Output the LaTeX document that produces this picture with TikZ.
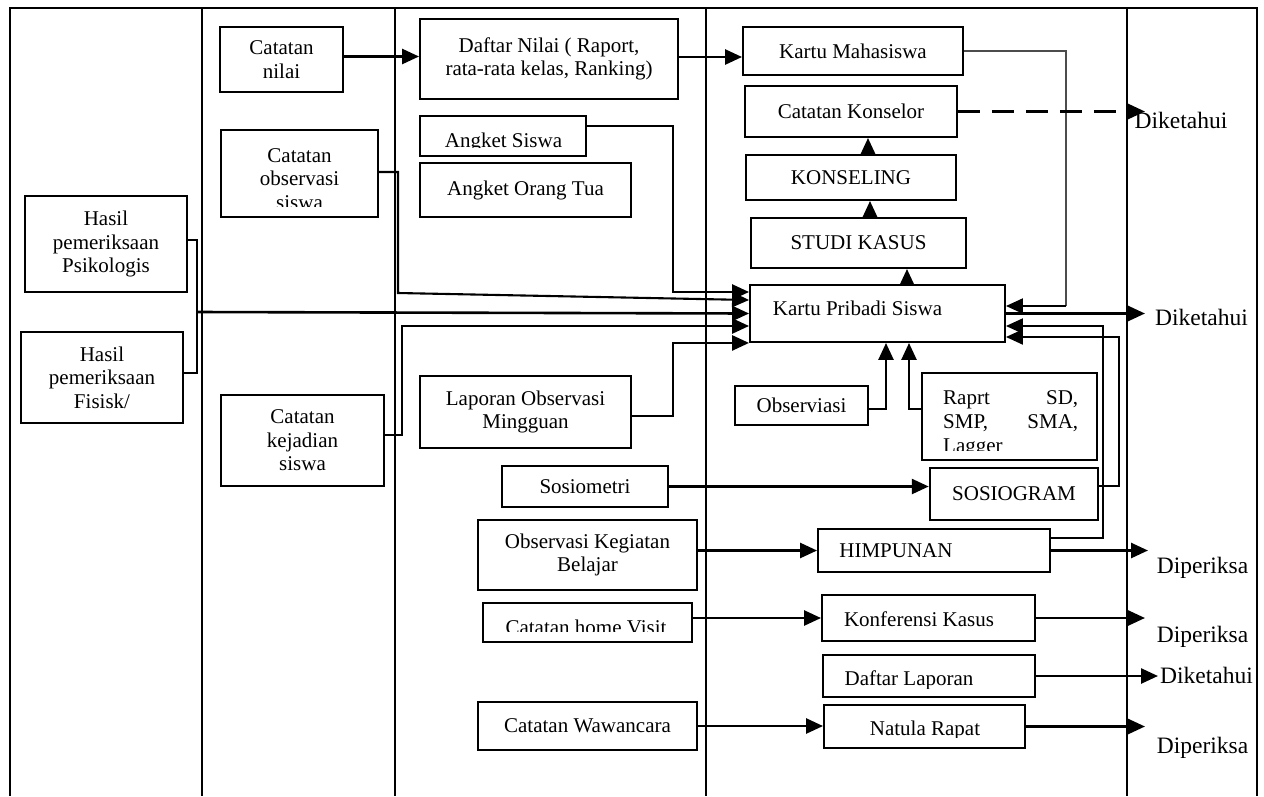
\documentclass[tikz,border=0pt]{standalone}
\usepackage{fontspec}
\setmainfont{Liberation Serif}
\usetikzlibrary{arrows.meta,calc}
\begin{document}
\begin{tikzpicture}[x=1pt,y=-1pt,
  frame/.style={line width=2.2pt},
  bx/.style={draw, line width=1.9pt, inner sep=0pt, align=center, font=\fontsize{21}{23.5}\selectfont},
  txt/.style={inner sep=0pt, align=center, font=\fontsize{21}{23.5}\selectfont},
  lbl/.style={inner sep=0pt, font=\fontsize{23.5}{26}\selectfont},
  arr/.style={line width=2.6pt, -{Triangle[length=17pt,width=15pt]}},
  arrm/.style={line width=2.1pt, -{Triangle[length=17pt,width=15pt]}},
  conn/.style={line width=1.7pt},
  grayl/.style={line width=1.5pt, draw=black!70},
  dasharr/.style={line width=2.8pt, dash pattern=on 22pt off 12pt, -{Triangle[length=17pt,width=15pt]}}
]
\useasboundingbox (0,0) rectangle (1264,796);

% frame
\draw[frame] (9,8) -- (1258,8);
\foreach \x in {10,202,395,706,1127,1257} \draw[frame] (\x,8) -- (\x,796);

% column 1
\node[bx, minimum width=162pt, minimum height=96pt] (psi) at (106,244) {Hasil\\pemeriksaan\\Psikologis};
\node[bx, minimum width=162pt, minimum height=91pt] (fis) at (102,377.5) {Hasil\\pemeriksaan\\Fisisk/};

% column 2
\node[bx, minimum width=123pt, minimum height=65pt] (cn) at (281.5,59.5) {Catatan\\nilai};
\node[bx, minimum width=157pt, minimum height=87pt] (cobs) at (299.5,173.5) {};
\begin{scope}
  \clip (221,130) rectangle (378,206);
  \node[txt, anchor=north] (cobst) at (299.5,148) {Catatan\\observasi\\siswa};
\end{scope}
\node[bx, minimum width=163pt, minimum height=91pt] (kej) at (302.5,440.5) {Catatan\\kejadian\\siswa};

% column 3
\node[bx, minimum width=258pt, minimum height=80pt] (dn) at (549,59) {Daftar Nilai ( Raport,\\rata-rata kelas, Ranking)};
\node[bx, minimum width=166pt, minimum height=40pt] (as) at (503,136) {};
\begin{scope}
  \clip (420,116) rectangle (586,147);
  \node[txt, anchor=base] (ast) at (503.5,147) {Angket Siswa};
\end{scope}
\node[bx, minimum width=211pt, minimum height=54pt] (aot) at (525.5,190) {Angket Orang Tua};
\node[bx, minimum width=211pt, minimum height=72pt] (lom) at (525.5,412) {Laporan Observasi\\Mingguan};
\node[bx, minimum width=166pt, minimum height=41pt] (sosm) at (585,486.5) {Sosiometri};
\node[bx, minimum width=219pt, minimum height=70pt] (okb) at (587.5,555) {Observasi Kegiatan\\Belajar};
\node[bx, minimum width=209pt, minimum height=39pt] (chv) at (587.5,622.5) {};
\begin{scope}
  \clip (483,603) rectangle (692,631);
  \node[txt, anchor=base] (chvt) at (586,634) {Catatan home Visit};
\end{scope}
\node[bx, minimum width=219pt, minimum height=48pt] (cw) at (587.5,726) {Catatan Wawancara};

% column 4
\node[bx, minimum width=220pt, minimum height=48pt] (km) at (853,51) {Kartu Mahasiswa};
\node[bx, minimum width=212pt, minimum height=51pt] (ck) at (851,111.5) {Catatan Konselor};
\node[bx, minimum width=210pt, minimum height=45pt] (kons) at (851,177.5) {KONSELING};
\node[bx, minimum width=215pt, minimum height=50pt] (sk) at (858.5,243) {STUDI KASUS};
\node[bx, minimum width=255pt, minimum height=57pt] (kp) at (877.5,313.5) {};
\node[txt, anchor=base] (kpt) at (857.5,315) {Kartu Pribadi Siswa};
\node[bx, minimum width=133pt, minimum height=39pt] (obs) at (801.5,405.5) {Observiasi};
\node[bx, minimum width=175pt, minimum height=87pt] (rap) at (1009.5,416.5) {};
\begin{scope}
  \clip (922,373) rectangle (1097,450);
  \node[txt, anchor=north west, align=left, font=\fontsize{21}{24}\selectfont] (rapt) at (943,390)
    {\hbox to 135pt{Raprt\hfill SD,}\\\hbox to 135pt{SMP,\hfill SMA,}\\Lagger};
\end{scope}
\node[bx, line width=2.5pt, minimum width=168pt, minimum height=52pt] (sosg) at (1014,494) {SOSIOGRAM};
\node[bx, minimum width=232pt, minimum height=43pt] (him) at (934,550.5) {};
\node[txt, anchor=base] (himt) at (896,557) {HIMPUNAN};
\node[bx, minimum width=213pt, minimum height=46pt] (kk) at (928.5,618) {};
\node[txt, anchor=base] (kkt) at (919,626) {Konferensi Kasus};
\node[bx, minimum width=212pt, minimum height=42pt] (dl) at (929,676) {};
\begin{scope}
  \clip (823,655) rectangle (1035,688);
  \node[txt, anchor=base] (dlt) at (909,685) {Daftar Laporan};
\end{scope}
\node[bx, minimum width=201pt, minimum height=43pt] (nr) at (924.5,726.5) {};
\begin{scope}
  \clip (824,705) rectangle (1025,737);
  \node[txt, anchor=base] (nrt) at (925,735) {Natula Rapat};
\end{scope}

% column 5 labels
\node[lbl, anchor=base] (d1) at (1181,128) {Diketahui};
\node[lbl, anchor=base] (d2) at (1201.5,325) {Diketahui};
\node[lbl, anchor=base] (p1) at (1202.5,573) {Diperiksa};
\node[lbl, anchor=base] (p2) at (1202.5,642) {Diperiksa};
\node[lbl, anchor=base] (d3) at (1206.5,683) {Diketahui};
\node[lbl, anchor=base] (p3) at (1202.5,753) {Diperiksa};

% helper coordinates
\coordinate (xr) at (1145,0);
\coordinate (xr2) at (1148,0);
\coordinate (xd3) at (1158,0);
\coordinate (xkm) at (1066,0);
\coordinate (xhim) at (1103,0);
\coordinate (xsos) at (1119,0);
\coordinate (xobs) at (886,0);
\coordinate (xrap) at (909,0);
\coordinate (xas) at (673,0);
\coordinate (xkej) at (402,0);
\coordinate (cobsB) at (398,293);
\coordinate (j) at (197,312);
\coordinate (kpA) at ([yshift=7.5pt]kp.east);
\coordinate (kpB) at ([yshift=-12.5pt]kp.east);
\coordinate (kpC) at ([yshift=-23.5pt]kp.east);
\coordinate (himA) at ([yshift=12.5pt]him.east);
\coordinate (sosA) at ([yshift=8pt]sosg.east);
\coordinate (obsA) at ([yshift=-3.5pt]obs.east);
\coordinate (rapA) at ([yshift=7.5pt]rap.west);
\coordinate (asA) at ([yshift=10pt]as.east);
\coordinate (kpL1) at ([yshift=21.5pt]kp.west);
\coordinate (kpL2) at ([yshift=13.5pt]kp.west);
\coordinate (kpL4) at ([yshift=-12.5pt]kp.west);
\coordinate (cobsA) at ([yshift=1.5pt]cobs.east);
\coordinate (kejA) at ([yshift=5.5pt]kej.east);
\coordinate (lomA) at ([yshift=-4pt]lom.east);
\coordinate (psiA) at ([yshift=4pt]psi.east);
\coordinate (fisA) at ([yshift=4.5pt]fis.east);
\coordinate (cnA) at ([yshift=3pt]cn.east);
\coordinate (dnA) at ([yshift=2pt]dn.east);

% connectors
\draw[arr] (cnA) -- (cnA -| dn.west);
\draw[arr] (dnA) -- (dnA -| km.west);
\draw[grayl] (km.east) -| (xkm |- kpA);
\draw[arrm] (xkm |- kpA) -- (kpA);
\draw[dasharr] (ck.east) -- (ck.east -| xr);
\draw[arr] ([xshift=17pt]kons.north) -- ([xshift=17pt]kons.north |- ck.south);
\draw[arr] ([xshift=11.5pt]sk.north) -- ([xshift=11.5pt]sk.north |- kons.south);
\draw[arr] ([xshift=29.5pt]kp.north) -- ([xshift=29.5pt]kp.north |- sk.south);
\draw[arr] (kp.east) -- (kp.east -| xr);
\draw[arrm] (himA) -| (xhim |- kpB) -- (kpB);
\draw[arrm] (sosA) -| (xsos |- kpC) -- (kpC);
\draw[arr] (obsA) -| (xobs |- kp.south);
\draw[arr] (rapA) -| (xrap |- kp.south);
\draw[arr] (asA) -| (xas |- kpL1) -- (kpL1);
\draw[arrm] (cobsA) -| (cobsB) -- (kpL2);
\draw[conn] (psiA) -| (j);
\draw[conn] (fisA) -| (j);
\draw[arr] (j) -- (kp.west);
\draw[arr] (kejA) -| (xkej |- kpL4) -- (kpL4);
\draw[arr] (lomA) -| (xas |- kp.south west) -- (kp.south west);
\draw[arr] (sosm.east) -- (sosm.east -| sosg.west);
\draw[arr] (okb.east |- him.west) -- (him.west);
\draw[arr] (chv.east |- kk.west) -- (kk.west);
\draw[arr] (cw.east) -- (cw.east -| nr.west);
\draw[arr] (him.east) -- (him.east -| xr2);
\draw[arr] (kk.east) -- (kk.east -| xr);
\draw[arr] (dl.east) -- (dl.east -| xd3);
\draw[arr] (nr.east) -- (nr.east -| xr);
\end{tikzpicture}
\end{document}
